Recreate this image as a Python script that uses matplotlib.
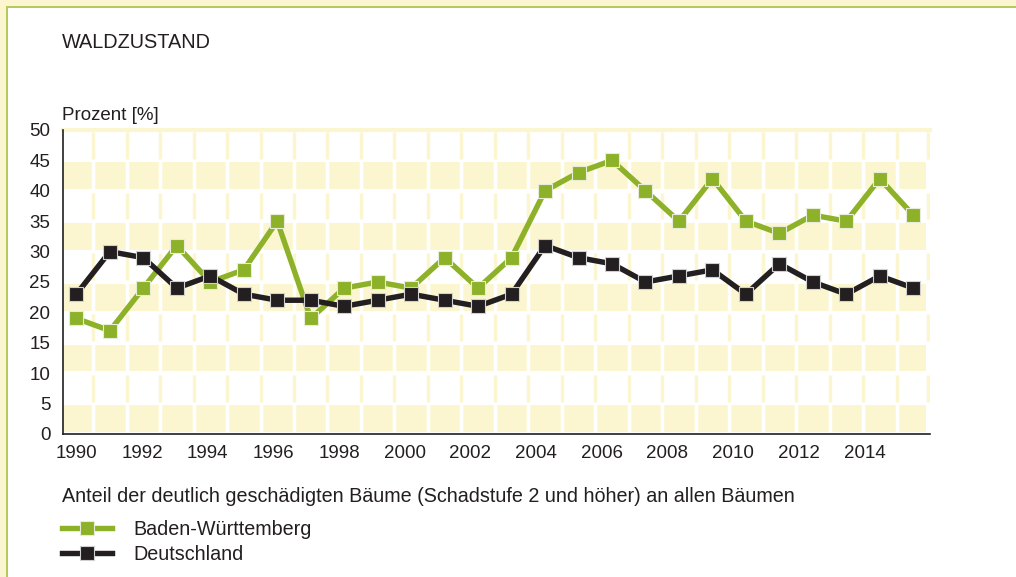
import matplotlib.pyplot as plt
from matplotlib.patches import Rectangle
from matplotlib.lines import Line2D

years = list(range(1990, 2016))
bw = [19, 17, 24, 31, 25, 27, 35, 19, 24, 25, 24, 29, 24, 29, 40, 43, 45, 40, 35, 42, 35, 33, 36, 35, 42, 36]
de = [23, 30, 29, 24, 26, 23, 22, 22, 21, 22, 23, 22, 21, 23, 31, 29, 28, 25, 26, 27, 23, 28, 25, 23, 26, 24]
y_ticks = [0, 5, 10, 15, 20, 25, 30, 35, 40, 45, 50]
x_labels = list(range(1990, 2015, 2))

GREEN = "#8db22a"
BLACK = "#231f20"
YELLOW = "#fcf6d0"
FRAME_GREEN = "#b6c95e"

plt.rcParams["font.family"] = ["Liberation Sans", "DejaVu Sans"]

W, H = 1016, 577
fig = plt.figure(figsize=(W / 100, H / 100), dpi=100)
fig.patch.set_facecolor("white")

# frame: yellow band with thin green line on top and left
fig.add_artist(Rectangle((0, 1 - 6 / H), 1, 6 / H, transform=fig.transFigure, color=YELLOW, lw=0))
fig.add_artist(Rectangle((0, 0), 6 / W, 1, transform=fig.transFigure, color=YELLOW, lw=0))
fig.add_artist(Rectangle((6 / W, 1 - 8 / H), 1, 2 / H, transform=fig.transFigure, color=FRAME_GREEN, lw=0))
fig.add_artist(Rectangle((6 / W, 0), 2 / W, 1 - 6 / H, transform=fig.transFigure, color=FRAME_GREEN, lw=0))

ax = fig.add_axes([63 / W, 1 - 434 / H, (930 - 63) / W, (434 - 130) / H])
x0, x1 = 1989.6, 2015.5
ax.set_xlim(x0, x1)
ax.set_ylim(0, 50)

# checkered background
half = [y + 0.5 for y in years[:-1]]
for i in range(10):
    lo, hi = 5 * i, 5 * i + 5
    if i % 2 == 0:
        ax.add_patch(Rectangle((x0, lo + 0.3), x1 - 0.12 - x0, 5 - 0.6, color=YELLOW, lw=0, zorder=0))
        ax.vlines(half, lo, hi, colors="white", lw=2.5, zorder=0.5)
    else:
        ax.vlines(half + [x1 - 0.06], lo + 0.3, hi - 0.3, colors=YELLOW, lw=2.5, zorder=0.5)
ax.axhline(50, color=YELLOW, lw=3, zorder=0.5, clip_on=False)

ax.plot(years, bw, color=GREEN, lw=3.9, marker="s", ms=9.5, mec="#e8ecd8", mew=0.8, zorder=3)
ax.plot(years, de, color=BLACK, lw=3.9, marker="s", ms=9.5, mec="#d0d0d0", mew=0.8, zorder=3)

for s in ["top", "right"]:
    ax.spines[s].set_visible(False)
for s in ["left", "bottom"]:
    ax.spines[s].set_color(BLACK)
    ax.spines[s].set_linewidth(1.2)
    ax.spines[s].set_zorder(4)

ax.set_yticks(y_ticks)
# the original's year labels sit on a slightly narrower spacing than the columns
ax.set_xticks([y - 0.019 * (y - 1990) for y in x_labels])
ax.set_xticklabels([str(y) for y in x_labels])
ax.tick_params(length=0, labelsize=13.5, colors=BLACK, pad=8)
ax.tick_params(axis="y", pad=9)

fig.text(62 / W, 1 - 43 / H, "WALDZUSTAND", fontsize=14.3, color=BLACK, va="center", ha="left")
fig.text(62 / W, 1 - 115 / H, "Prozent [%]", fontsize=13.5, color=BLACK, va="center", ha="left")
fig.text(62 / W, 1 - 497 / H,
         "Anteil der deutlich geschädigten Bäume (Schadstufe 2 und höher) an allen Bäumen",
         fontsize=14.2, color=BLACK, va="center", ha="left")

handles = [
    Line2D([], [], color=GREEN, lw=3.9, marker="s", ms=9.5, mec="#e8ecd8", mew=0.8),
    Line2D([], [], color=BLACK, lw=3.9, marker="s", ms=9.5, mec="#d0d0d0", mew=0.8),
]
leg = fig.legend(handles, ["Baden-Württemberg", "Deutschland"], loc="upper left",
                 bbox_to_anchor=(62 / W, 1 - 520 / H), frameon=False, fontsize=14.2,
                 handlelength=2.55, handletextpad=1.05, labelspacing=0.3, borderpad=0,
                 borderaxespad=0)
for t in leg.get_texts():
    t.set_color(BLACK)

fig.savefig("out.png", dpi=100)
